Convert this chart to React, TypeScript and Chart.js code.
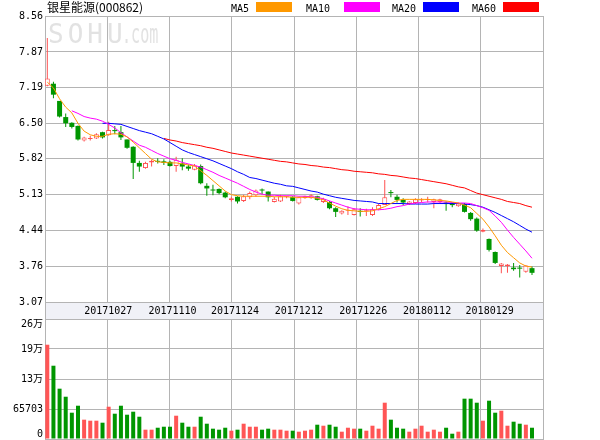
import React, { useEffect, useRef } from 'react';
import { Chart, registerables } from 'chart.js';

Chart.register(...registerables);

const title = '银星能源(000862)';

const opens = [
  7.22, 7.26, 6.93, 6.62, 6.51, 6.45, 6.17, 6.20, 6.21, 6.33,
  6.27, 6.37, 6.33, 6.19, 6.05, 5.74, 5.64, 5.75, 5.77, 5.77,
  5.76, 5.68, 5.73, 5.67, 5.61, 5.68, 5.30, 5.22, 5.24, 5.17,
  5.03, 5.09, 5.01, 5.08, 5.12, 5.22, 5.19, 4.99, 5.00, 5.08,
  5.09, 4.96, 5.06, 5.06, 5.10, 4.99, 4.99, 4.87, 4.77, 4.82,
  4.74, 4.82, 4.81, 4.74, 4.84, 4.93, 5.18, 5.09, 5.03, 4.95,
  4.97, 5.02, 5.03, 4.99, 4.99, 4.98, 4.97, 4.91, 4.95, 4.78,
  4.67, 4.42, 4.28, 4.03, 3.76, 3.76, 3.73, 3.73, 3.65, 3.72,
];
const highs = [
  8.14, 7.30, 6.93, 6.69, 6.52, 6.46, 6.24, 6.26, 6.31, 6.34,
  6.53, 6.45, 6.45, 6.19, 6.06, 5.78, 5.76, 5.80, 5.83, 5.81,
  5.78, 5.86, 5.83, 5.71, 5.72, 5.71, 5.35, 5.32, 5.25, 5.19,
  5.09, 5.10, 5.13, 5.19, 5.23, 5.25, 5.19, 5.09, 5.13, 5.11,
  5.10, 5.09, 5.11, 5.14, 5.11, 5.07, 5.01, 4.89, 4.83, 4.91,
  4.87, 4.87, 4.86, 4.89, 4.96, 5.41, 5.22, 5.13, 5.06, 5.01,
  5.06, 5.06, 5.09, 5.05, 5.05, 5.00, 4.98, 4.98, 4.97, 4.80,
  4.69, 4.48, 4.29, 4.04, 3.82, 3.80, 3.82, 3.78, 3.78, 3.75,
];
const lows = [
  7.21, 6.98, 6.61, 6.43, 6.40, 6.17, 6.15, 6.17, 6.20, 6.21,
  6.26, 6.29, 6.18, 6.01, 5.43, 5.57, 5.63, 5.67, 5.73, 5.70,
  5.67, 5.57, 5.60, 5.59, 5.60, 5.33, 5.11, 5.12, 5.14, 5.06,
  5.00, 4.96, 4.99, 5.04, 5.09, 5.14, 5.00, 4.98, 4.99, 5.06,
  5.00, 4.94, 5.05, 5.05, 5.02, 4.97, 4.85, 4.70, 4.75, 4.74,
  4.73, 4.71, 4.72, 4.72, 4.83, 4.93, 5.08, 4.98, 4.93, 4.93,
  4.95, 4.98, 4.98, 4.87, 4.96, 4.82, 4.89, 4.90, 4.79, 4.63,
  4.42, 4.41, 4.04, 3.80, 3.62, 3.63, 3.67, 3.54, 3.63, 3.59,
];
const closes = [
  7.36, 7.05, 6.63, 6.50, 6.43, 6.19, 6.23, 6.22, 6.29, 6.23,
  6.37, 6.35, 6.23, 6.03, 5.74, 5.67, 5.74, 5.78, 5.76, 5.74,
  5.68, 5.80, 5.67, 5.63, 5.69, 5.35, 5.25, 5.21, 5.16, 5.08,
  5.06, 5.00, 5.10, 5.16, 5.21, 5.21, 5.08, 5.05, 5.10, 5.10,
  5.01, 5.08, 5.10, 5.12, 5.03, 5.05, 4.87, 4.80, 4.82, 4.82,
  4.85, 4.80, 4.81, 4.85, 4.93, 5.08, 5.16, 5.03, 4.98, 5.00,
  5.04, 5.03, 5.03, 5.04, 5.04, 4.95, 4.93, 4.96, 4.80, 4.66,
  4.44, 4.45, 4.07, 3.82, 3.81, 3.79, 3.70, 3.71, 3.77, 3.63,
];
const volumes = [
  206500, 160500, 110200, 92600, 57600, 72900, 42300, 40100, 40100, 35700,
  70700, 55400, 72900, 53200, 59800, 48800, 20400, 20400, 24700, 26900,
  26900, 51000, 35700, 26900, 26900, 48800, 33500, 22600, 20400, 24700,
  18200, 20400, 33500, 26900, 26900, 20400, 22600, 20400, 20400, 18200,
  18200, 16000, 18200, 20400, 31300, 29100, 31300, 26900, 16000, 24700,
  22600, 22600, 18200, 29100, 22600, 79500, 42300, 24700, 22600, 16000,
  22600, 29100, 16000, 20400, 16000, 24700, 11600, 16000, 88300, 88300,
  79500, 40100, 83900, 57600, 62000, 29100, 37900, 33500, 31300, 24700,
];

const ma5 = [
  7.29, 7.18, 6.97, 6.81, 6.70, 6.50, 6.35, 6.28, 6.25, 6.25,
  6.29, 6.30, 6.29, 6.24, 6.14, 6.03, 5.92, 5.81, 5.76, 5.75,
  5.74, 5.74, 5.72, 5.70, 5.68, 5.59, 5.50, 5.40, 5.30, 5.20,
  5.13, 5.11, 5.10, 5.10, 5.10, 5.10, 5.10, 5.09, 5.09, 5.09,
  5.08, 5.08, 5.08, 5.08, 5.06, 5.03, 4.97, 4.91, 4.86, 4.83,
  4.82, 4.81, 4.81, 4.82, 4.86, 4.90, 4.96, 5.02, 5.04, 5.04,
  5.04, 5.04, 5.04, 5.03, 5.02, 5.01, 4.99, 4.97, 4.93, 4.88,
  4.77, 4.66, 4.51, 4.34, 4.16, 4.02, 3.92, 3.82, 3.76, 3.74,
];
const ma10 = [
  null, null, null, null, 6.74, 6.69, 6.63, 6.60, 6.58, 6.54,
  6.48, 6.41, 6.32, 6.24, 6.16, 6.08, 6.04, 5.98, 5.92, 5.87,
  5.82, 5.79, 5.75, 5.72, 5.69, 5.66, 5.61, 5.56, 5.50, 5.45,
  5.40, 5.35, 5.29, 5.23, 5.18, 5.14, 5.12, 5.12, 5.11, 5.11,
  5.11, 5.10, 5.10, 5.09, 5.08, 5.05, 5.01, 4.97, 4.93, 4.89,
  4.86, 4.85, 4.84, 4.84, 4.84, 4.85, 4.87, 4.90, 4.92, 4.95,
  4.97, 4.98, 4.99, 4.99, 4.99, 4.99, 4.98, 4.97, 4.97, 4.96,
  4.92, 4.88, 4.83, 4.72, 4.60, 4.45, 4.31, 4.18, 4.05, 3.91,
];
const ma20 = [
  null, null, null, null, null, null, null, null, null, 6.50,
  6.50, 6.49, 6.48, 6.44, 6.40, 6.36, 6.33, 6.30, 6.25, 6.20,
  6.13, 6.06, 5.99, 5.94, 5.90, 5.86, 5.82, 5.78, 5.73, 5.68,
  5.63, 5.57, 5.52, 5.46, 5.44, 5.41, 5.38, 5.35, 5.33, 5.30,
  5.29, 5.26, 5.23, 5.20, 5.18, 5.14, 5.11, 5.08, 5.06, 5.04,
  5.02, 5.01, 5.00, 4.99, 4.96, 4.96, 4.96, 4.96, 4.96, 4.95,
  4.95, 4.95, 4.95, 4.96, 4.96, 4.96, 4.96, 4.96, 4.95, 4.94,
  4.92, 4.89, 4.84, 4.79, 4.73, 4.67, 4.61, 4.54, 4.47, 4.41,
];
const ma60 = [
  null, null, null, null, null, null, null, null, null, null,
  null, null, null, null, null, null, null, null, null, 6.21,
  6.18, 6.16, 6.13, 6.11, 6.09, 6.07, 6.04, 6.02, 5.99, 5.96,
  5.93, 5.91, 5.89, 5.87, 5.85, 5.83, 5.81, 5.79, 5.77, 5.76,
  5.74, 5.72, 5.71, 5.69, 5.68, 5.66, 5.65, 5.63, 5.61, 5.60,
  5.58, 5.57, 5.56, 5.55, 5.53, 5.52, 5.50, 5.49, 5.47, 5.45,
  5.44, 5.42, 5.40, 5.38, 5.36, 5.34, 5.31, 5.28, 5.26, 5.21,
  5.16, 5.13, 5.10, 5.07, 5.04, 5.00, 4.98, 4.96, 4.92, 4.89,
];

const maNames = ['MA5', 'MA10', 'MA20', 'MA60'];
const priceTicks = [8.56, 7.87, 7.19, 6.50, 5.82, 5.13, 4.44, 3.76, 3.07];
const volTicks = [0, 65703, 131406, 197109, 262812];
const volTickLabels = ['0', '65703', '13万', '19万', '26万'];
const dateLabels = ['20171027', '20171110', '20171124', '20171212', '20171226', '20180112', '20180129'];
const dateAt = [9.93, 20.4, 30.6, 41, 51.5, 61.9, 72.1];

// ---- styling / layout ----
const MA_COLORS = ['#ff9900', '#ff00ff', '#0000ff', '#ff0000'];
const RED = '#ff5050';
const VOL_RED = '#ff5555';
const GREEN = '#009600';
const GRID = '#b4b4b4';
const BAND = '#f0f1f7';
const MONO = '"DejaVu Sans Mono", "Noto Sans CJK SC", monospace';

const X_MIN = -0.375;
const X_MAX = 80.793;
const PRICE_TOP = priceTicks[0];
const PRICE_BOTTOM = priceTicks[priceTicks.length - 1];
// chart area 16..439 : price panel 286px, band 17px, volume panel 120px
const PRICE_MIN = PRICE_BOTTOM - (PRICE_TOP - PRICE_BOTTOM) * (137 / 286);
const VOL_TOP = volTicks[volTicks.length - 1];
const VOL_MAX = VOL_TOP * (423 / 120);

const overlay = {
  id: 'overlay',
  beforeDraw(chart: any) {
    const { ctx } = chart;
    ctx.save();
    ctx.fillStyle = '#e2e2e2';
    ctx.font = '26px "DejaVu Sans Mono"';
    ctx.textBaseline = 'alphabetic';
    ctx.textAlign = 'left';
    (ctx as any).letterSpacing = '4px';
    ctx.fillText('SOHU', 48, 43);
    (ctx as any).letterSpacing = '0px';
    ctx.translate(122, 43);
    ctx.scale(0.58, 1);
    ctx.fillText('.com', 0, 0);
    ctx.restore();
  },
  beforeDatasetsDraw(chart: any) {
    const { ctx, chartArea: a, scales } = chart;
    const yTop = Math.round(scales.y.getPixelForValue(PRICE_BOTTOM));
    const yBot = Math.round(scales.yv.getPixelForValue(VOL_TOP));
    const left = Math.round(a.left);
    const right = Math.round(a.right);
    ctx.save();
    ctx.fillStyle = BAND;
    ctx.fillRect(left + 1, yTop + 1, right - left - 1, yBot - yTop - 1);
    ctx.fillStyle = '#000';
    ctx.font = '10px ' + MONO;
    ctx.textAlign = 'center';
    ctx.textBaseline = 'middle';
    const yc = (yTop + yBot) / 2 + 1;
    dateLabels.forEach((lab, k) => {
      ctx.fillText(lab, scales.x.getPixelForValue(dateAt[k]), yc);
    });
    ctx.restore();
  },
  afterDraw(chart: any) {
    const { ctx, scales } = chart;
    ctx.save();
    // title
    ctx.fillStyle = '#000';
    ctx.font = '12px "Noto Sans CJK SC"';
    ctx.textAlign = 'left';
    ctx.textBaseline = 'alphabetic';
    ctx.fillText(title, 47, 12);
    // legend
    const textX = [231, 306, 392, 472];
    const boxX = [256, 344, 423, 503];
    ctx.font = '10px ' + MONO;
    maNames.forEach((n, k) => {
      ctx.fillStyle = '#000';
      ctx.fillText(n, textX[k], 11.5);
      ctx.fillStyle = MA_COLORS[k];
      ctx.fillRect(boxX[k], 2, 36, 10);
    });
    // volume tick labels
    ctx.fillStyle = '#000';
    ctx.textAlign = 'right';
    ctx.textBaseline = 'middle';
    const vTop = scales.yv.getPixelForValue(VOL_TOP);
    const vBot = scales.yv.getPixelForValue(0);
    volTicks.forEach((v, k) => {
      let y = scales.yv.getPixelForValue(v);
      y = Math.max(vTop + 5, Math.min(vBot - 5, y));
      ctx.fillText(volTickLabels[k], 43, y);
    });
    ctx.restore();
  },
};

export default function App() {
  const ref = useRef<HTMLCanvasElement>(null);
  useEffect(() => {
    const canvas = ref.current;
    if (!canvas) return;
    const idx = opens.map((_, i) => i);
    const up = idx.map((i) => closes[i] >= opens[i]);
    const candleColors = up.map((u) => (u ? RED : GREEN));
    const mas = [ma5, ma10, ma20, ma60];

    const lineSets = mas.map((m, k) => ({
      type: 'line' as const,
      label: maNames[k],
      data: idx.map((i) => ({ x: i, y: m[i] })),
      borderColor: MA_COLORS[k],
      backgroundColor: MA_COLORS[k],
      borderWidth: 1,
      pointRadius: 0,
      tension: 0,
      spanGaps: false,
      yAxisID: 'y',
      xAxisID: 'x',
      order: 1,
    }));

    const chart = new Chart(canvas, {
      type: 'bar',
      data: {
        datasets: [
          ...lineSets,
          {
            type: 'bar',
            label: 'wick',
            data: idx.map((i) => ({ x: i, y: [lows[i], highs[i]] })),
            backgroundColor: candleColors,
            barThickness: 1,
            grouped: false,
            minBarLength: 1,
            inflateAmount: 0,
            yAxisID: 'y',
            xAxisID: 'x',
            order: 3,
          },
          {
            type: 'bar',
            label: 'body',
            data: idx.map((i) => ({ x: i, y: [opens[i], closes[i]] })),
            backgroundColor: up.map((u) => (u ? '#ffffff' : GREEN)),
            borderColor: candleColors,
            borderWidth: up.map((u) => (u ? 1 : 0)),
            borderSkipped: false,
            barThickness: 5,
            grouped: false,
            minBarLength: 1,
            inflateAmount: 0,
            yAxisID: 'y',
            xAxisID: 'x',
            order: 2,
          },
          {
            type: 'bar',
            label: 'volume',
            data: idx.map((i) => ({ x: i, y: volumes[i] })),
            backgroundColor: up.map((u) => (u ? VOL_RED : GREEN)),
            barThickness: 4,
            grouped: false,
            inflateAmount: 0,
            yAxisID: 'yv',
            xAxisID: 'x',
            order: 3,
          },
        ] as any,
      },
      options: {
        responsive: false,
        animation: false,
        devicePixelRatio: 1,
        layout: { padding: { left: 0, right: 57, top: 16, bottom: 1 } },
        plugins: { legend: { display: false }, tooltip: { enabled: false } },
        scales: {
          x: {
            type: 'linear',
            position: 'bottom',
            min: X_MIN,
            max: X_MAX,
            offset: false,
            grid: { color: GRID, drawTicks: false, offset: false },
            border: { color: GRID },
            ticks: { display: false },
            afterBuildTicks: (s: any) => {
              s.ticks = Array.from({ length: 9 }, (_, k) => ({ value: X_MIN + (k * (X_MAX - X_MIN)) / 8 }));
            },
            afterFit: (s: any) => {
              s.height = 0;
              s.paddingLeft = 0;
              s.paddingRight = 0;
            },
          },
          y: {
            type: 'linear',
            position: 'left',
            weight: 1,
            min: PRICE_MIN,
            max: PRICE_TOP,
            grid: { color: GRID, drawTicks: false },
            border: { color: GRID },
            ticks: {
              color: '#000',
              font: { family: MONO, size: 10 },
              padding: 2,
              autoSkip: false,
              callback: (v: any) => Number(v).toFixed(2),
            },
            afterBuildTicks: (s: any) => {
              s.ticks = priceTicks.map((v) => ({ value: v }));
            },
            afterFit: (s: any) => {
              s.width = 45;
              s.paddingTop = 0;
              s.paddingBottom = 0;
            },
          },
          yv: {
            type: 'linear',
            position: 'left',
            weight: 0,
            min: 0,
            max: VOL_MAX,
            grid: { color: GRID, drawTicks: false },
            border: { display: false },
            ticks: { display: false },
            afterBuildTicks: (s: any) => {
              s.ticks = volTicks.map((v) => ({ value: v }));
            },
            afterFit: (s: any) => {
              s.width = 0;
              s.paddingTop = 0;
              s.paddingBottom = 0;
            },
          },
        },
      } as any,
      plugins: [overlay],
    });
    return () => chart.destroy();
  }, []);

  return (
    <div style={{ position: 'absolute', left: 0, top: 0, width: 600, height: 440, background: '#fff' }}>
      <canvas ref={ref} width={600} height={440} style={{ display: 'block' }} />
    </div>
  );
}
